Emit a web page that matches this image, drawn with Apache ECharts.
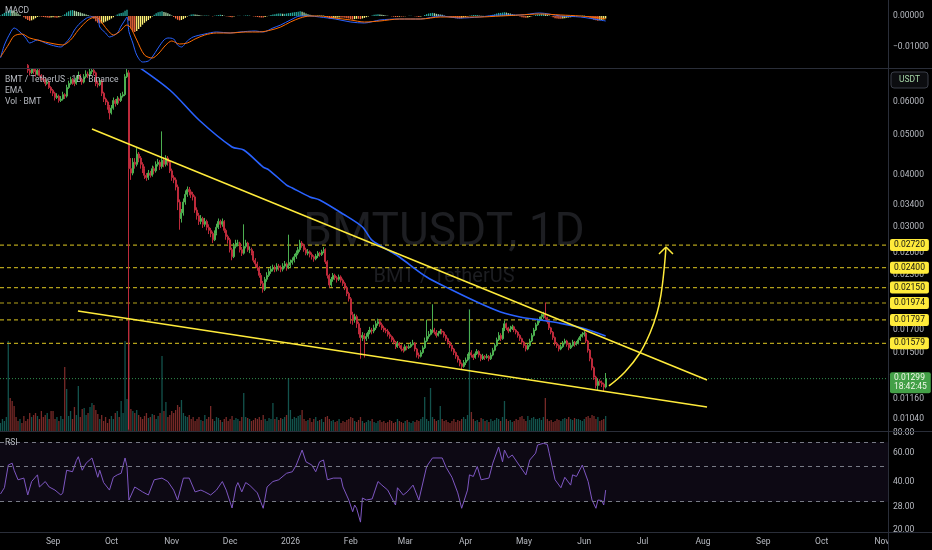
<!DOCTYPE html>
<html><head><meta charset="utf-8">
<script src="https://cdn.jsdelivr.net/npm/echarts@6/dist/echarts.min.js"></script>
<style>html,body{margin:0;padding:0;background:#000;}#c{width:932px;height:550px;}</style>
</head><body><div id="c"></div>
<script>
// ---------- DATA (prices in units of 0.00001 USDT) ----------
const startDate = '2025-08-05';           // first daily candle (day index 0)
const firstOpen = 7400;
const closeP = [
7500,7700,7900,8200,8400,8300,8100,8000,7900,7700,
7800,7600,7500,7350,7150,7050,7200,7100,7000,7150,
6950,6850,6800,6650,6700,6500,6400,6300,6150,6200,
6050,6100,6250,6200,6500,6650,6800,6700,6650,6850,
6950,6800,6700,6900,7000,6950,7100,7150,7050,6650,
6600,6750,6300,6100,6000,5850,5650,5800,6050,5950,
6100,6050,6200,6250,6900,7050,4150,4050,4300,4250,
4500,4400,4250,4150,4000,3950,4050,4000,4150,4100,
4250,4300,4200,4350,4250,4400,4300,4100,3950,3900,
3750,3450,3150,3250,3450,3600,3700,3650,3600,3550,
3300,3200,3100,3150,3050,3100,3000,2950,2900,2800,
2900,3000,3100,3050,3100,2950,2850,2800,2650,2550,
2700,2750,2750,2650,2600,2700,2750,2650,2650,2600,
2500,2450,2400,2300,2200,2130,2250,2300,2350,2380,
2400,2380,2420,2400,2380,2420,2450,2400,2430,2470,
2500,2550,2600,2650,2750,2720,2650,2600,2620,2580,
2550,2520,2560,2600,2580,2620,2650,2480,2300,2180,
2250,2300,2270,2250,2280,2240,2200,2150,2080,2020,
1850,1800,1830,1760,1700,1630,1650,1620,1640,1680,
1700,1690,1720,1760,1780,1750,1720,1700,1690,1660,
1640,1610,1590,1550,1580,1560,1530,1520,1550,1540,
1550,1570,1580,1530,1480,1470,1500,1540,1600,1640,
1660,1680,1700,1680,1650,1670,1690,1680,1650,1620,
1590,1560,1530,1500,1470,1440,1410,1390,1420,1440,
1470,1500,1480,1460,1490,1510,1480,1450,1470,1460,
1470,1450,1480,1520,1560,1610,1650,1620,1700,1760,
1720,1690,1710,1730,1700,1680,1650,1620,1590,1560,
1530,1560,1600,1650,1700,1750,1790,1800,1830,1850,
1820,1780,1720,1680,1630,1580,1560,1530,1550,1580,
1600,1570,1540,1560,1590,1570,1580,1610,1640,1660,
1670,1600,1520,1450,1380,1310,1250,1280,1270,1260,
1240,1299];
const highP = [
7650,7800,8050,8350,8600,8550,8400,8200,8100,7950,
7900,7850,7700,7550,7400,7200,7200,7200,7200,7200,
7200,7000,6950,6850,6800,6750,6550,6450,6350,6300,
6250,6200,6350,6300,6600,6750,6900,6850,6780,6950,
7100,7000,6850,7000,7150,7100,7200,7200,7200,7100,
6750,6850,6800,6350,6150,6050,5900,5900,6150,6100,
6200,6150,6300,6350,7000,7200,7150,4400,4400,4400,
4650,4550,4450,4300,4200,4050,4120,4100,4220,4200,
4320,4380,4350,5100,4420,4470,4450,4330,4150,4000,
3950,3800,3500,3320,3520,3680,3760,3750,3700,3650,
3580,3350,3250,3210,3180,3160,3130,3050,2990,2930,
2950,3060,3150,3130,3150,3120,2980,2880,2830,2680,
2750,2800,2800,2770,2690,3050,2800,2770,2700,2680,
2630,2530,2480,2420,2330,2230,2280,2340,2390,2420,
2440,2430,2460,2450,2430,2460,2490,2470,2880,2510,
2540,2590,2640,2690,2800,2780,2740,2680,2660,2640,
2610,2570,2590,2630,2620,2650,2690,2670,2500,2320,
2280,2330,2320,2290,2310,2300,2260,2220,2170,2100,
2040,1880,1860,1850,1780,1720,1680,1670,1670,1700,
1730,1720,1750,1790,1810,1800,1770,1740,1720,1710,
1680,1650,1630,1600,1600,1590,1570,1550,1570,1560,
1570,1590,1610,1590,1540,1500,1520,1560,1630,1800,
1690,1710,1960,1720,1700,1690,1710,1710,1690,1660,
1630,1600,1570,1540,1510,1480,1450,1420,1440,1460,
1490,1900,1520,1490,1510,1530,1520,1490,1490,1480,
1490,1480,1500,1540,1580,1630,1680,1670,1720,1790,
1770,1730,1740,1750,1740,1710,1690,1660,1630,1600,
1570,1580,1620,1670,1720,1770,1810,1830,1860,1880,
1980,1830,1790,1730,1690,1640,1590,1570,1570,1600,
1620,1610,1580,1580,1610,1600,1600,1630,1660,1680,
1690,1680,1610,1530,1460,1390,1320,1300,1295,1285,
1270,1340];
const lowP = [
7300,7450,7650,7850,8100,8200,8000,7900,7800,7600,
7650,7500,7400,7250,7050,6950,7000,7000,6900,6950,
6900,6750,6700,6550,6600,6450,6300,6200,6050,6100,
5980,6000,6050,6100,6150,6450,6600,6600,6550,6600,
6800,6700,6600,6650,6850,6850,6900,7000,6950,6550,
6500,6550,6200,6000,5900,5750,5450,5600,5750,5850,
5900,5950,6000,6150,6200,6850,980,3900,4000,4150,
4200,4300,4150,4050,3920,3880,3900,3950,3970,4020,
4060,4200,4120,4150,4180,4200,4220,4050,3880,3830,
3680,3300,2960,3080,3200,3400,3550,3580,3530,3480,
3250,3130,3040,3050,2990,3010,2950,2890,2840,2750,
2780,2870,2970,2990,3010,2910,2800,2740,2610,2500,
2530,2670,2700,2610,2560,2580,2670,2620,2600,2570,
2470,2410,2360,2270,2170,2090,2110,2220,2280,2320,
2350,2340,2350,2360,2340,2350,2390,2360,2380,2400,
2440,2470,2520,2570,2620,2680,2620,2570,2570,2540,
2510,2480,2500,2530,2550,2560,2600,2450,2260,2150,
2160,2220,2240,2210,2230,2210,2170,2120,2050,1990,
1760,1750,1770,1720,1660,1450,1600,1460,1600,1620,
1660,1660,1670,1700,1740,1730,1700,1680,1670,1640,
1620,1590,1570,1530,1540,1540,1510,1500,1510,1520,
1530,1540,1560,1510,1460,1450,1460,1490,1530,1590,
1620,1650,1670,1660,1630,1640,1660,1660,1630,1600,
1570,1540,1510,1480,1450,1420,1390,1370,1380,1400,
1430,1450,1460,1440,1450,1480,1460,1430,1440,1440,
1450,1430,1440,1470,1510,1550,1600,1600,1610,1690,
1700,1670,1680,1700,1680,1660,1630,1600,1570,1540,
1510,1520,1550,1590,1640,1690,1740,1770,1790,1810,
1800,1760,1700,1660,1610,1560,1540,1510,1520,1540,
1570,1550,1520,1530,1550,1550,1560,1570,1600,1630,
1640,1580,1500,1430,1360,1290,1230,1215,1250,1240,
1210,1230];
// relative daily volume (arbitrary units)
const volume = [
8,12,10,14,90,33,30,25,14,10,
12,8,15,10,12,18,14,16,18,15,
12,20,14,16,18,12,20,20,12,14,
10,15,12,64,42,15,20,12,24,16,
45,14,22,23,16,18,24,28,26,21,
17,12,16,10,14,8,12,15,12,18,
20,14,30,18,90,32,110,22,20,18,
21,16,14,12,15,18,13,14,17,16,
12,15,18,75,20,29,14,16,20,18,
21,26,24,31,18,15,14,16,12,14,
10,12,14,11,10,16,12,14,25,12,
10,14,13,11,9,12,14,10,12,15,
11,13,12,10,14,38,14,13,12,10,
11,13,12,14,11,16,12,10,13,12,
28,12,14,11,13,12,14,16,53,21,
12,14,13,15,16,21,12,10,11,13,
9,12,14,10,11,12,9,14,15,12,
10,11,9,10,12,8,10,9,11,12,
14,13,10,9,11,14,10,8,9,11,
10,12,9,8,10,11,9,10,8,9,
11,10,8,9,12,10,9,8,10,11,
9,8,10,9,11,10,12,14,34,12,
10,43,14,12,10,11,25,12,10,11,
9,8,10,12,9,11,10,12,14,12,
16,122,19,12,10,11,9,13,12,10,
11,9,12,10,11,13,12,10,14,30,
12,10,11,9,10,12,11,14,15,12,
10,15,11,13,14,12,12,13,11,14,
33,12,10,11,9,10,12,11,10,12,
13,12,14,12,11,13,12,12,11,10,
12,14,15,13,16,15,12,14,10,11,
12,15];
// MACD histogram, daily (units of 0.00001)
const macdHist = [
20,60,100,140,170,190,180,160,120,80,
40,0,-40,-90,-130,-150,-140,-110,-70,-30,
-10,-20,-30,-40,-50,-60,-50,-40,-50,-60,
-40,-20,20,60,110,150,180,190,170,150,
130,110,90,70,50,30,10,-30,-90,-170,
-220,-240,-230,-210,-180,-150,-120,-80,-40,10,
50,80,100,110,170,200,-150,-400,-500,-520,
-480,-420,-350,-280,-220,-170,-130,-70,-20,40,
90,120,140,150,130,110,90,60,20,-30,
-80,-120,-140,-130,-100,-60,-20,20,50,60,
50,40,30,20,10,20,20,10,0,-10,
10,20,30,40,30,10,-10,-20,-30,-40,
-20,0,10,10,0,10,20,20,10,0,
-10,-20,-30,-40,-50,-50,-30,-10,10,30,
50,60,70,80,80,70,70,80,90,100,
110,120,130,140,150,140,110,80,60,40,
20,10,10,20,20,20,20,-10,-50,-80,
-90,-80,-70,-60,-50,-50,-50,-60,-70,-80,
-100,-110,-100,-90,-90,-100,-80,-60,-40,-20,
0,20,40,50,60,50,40,30,20,10,
0,-10,-20,-30,-30,-20,-20,-20,-10,0,
10,10,0,-10,-20,-30,-20,0,30,60,
80,90,100,90,70,60,50,40,20,0,
-20,-40,-50,-60,-70,-80,-80,-70,-50,-30,
-10,10,20,30,30,30,20,10,10,0,
0,10,20,40,60,80,100,100,110,120,
110,90,80,60,40,20,0,-20,-40,-50,
-60,-50,-30,-10,10,30,50,60,70,70,
60,40,20,-10,-40,-70,-80,-90,-90,-80,
-70,-60,-50,-40,-30,-20,-10,0,10,20,
20,0,-30,-60,-90,-120,-140,-150,-140,-130,
-110,-80];
// [day index, value in 0.00001]
const macdLine = [[0,-1355],[2,-935],[5,-548],[7,-387],[10,-516],[13,-710],[15,-871],[19,-774],[23,-871],[26,-935],[31,-1000],[33,-903],[36,-677],[38,-452],[41,-226],[46,-32],[50,-65],[51,-355],[54,-548],[56,-677],[60,-548],[62,-323],[64,-129],[65,-32],[66,-500],[68,-871],[70,-1258],[73,-1484],[76,-1452],[78,-1323],[81,-1032],[84,-774],[86,-710],[89,-742],[91,-935],[93,-1000],[96,-806],[99,-677],[105,-581],[111,-516],[118,-548],[123,-516],[131,-484],[135,-516],[140,-387],[144,-290],[149,-129],[154,0],[159,0],[164,-32],[172,-97],[180,-194],[187,-226],[195,-129],[205,-97],[216,-97],[226,0],[236,-65],[246,-32],[257,32],[267,32],[277,97],[288,0],[298,-32],[308,-129],[311,-161]];
const signalLine = [[0,-1323],[4,-935],[7,-645],[11,-581],[15,-710],[19,-774],[23,-839],[28,-903],[32,-935],[36,-774],[40,-452],[45,-129],[49,-32],[51,-129],[55,-452],[58,-613],[61,-516],[65,-290],[67,-387],[70,-774],[74,-1258],[78,-1355],[81,-1226],[85,-935],[88,-806],[92,-903],[96,-871],[100,-742],[105,-613],[111,-548],[118,-548],[126,-516],[133,-516],[139,-452],[144,-355],[149,-194],[154,-65],[159,0],[164,0],[172,-65],[180,-129],[187,-194],[195,-161],[205,-97],[216,-97],[226,-32],[236,-32],[246,-32],[257,0],[267,32],[277,65],[288,32],[298,0],[308,-65],[311,-97]];
// [day index, RSI]
const rsiPts = [[0,33.5],[2,36.6],[4,50.6],[6,52],[7,47],[9,41],[12,42],[14,33],[16,40],[19,44],[20,37],[23,40],[25,37],[28,35.4],[31,33],[32,34],[34,47],[37,46],[39,54],[40,57],[42,47],[44,52],[47,56],[50,42.5],[51,47],[53,39.4],[56,35.4],[58,42.5],[60,44],[62,45],[64,56],[65,49.6],[66,30.7],[69,37],[73,34.5],[76,33],[79,41],[83,42],[86,40],[89,35.4],[91,30.7],[94,42],[97,42],[100,34.5],[103,35.4],[105,34.5],[108,33],[111,35.4],[114,40],[116,35.4],[119,27.4],[121,37],[122,39.4],[124,34.5],[126,39.4],[128,38],[132,34],[133,31.6],[135,27.3],[137,37],[140,40],[143,41],[147,45],[150,46],[152,50.6],[155,62.7],[157,53],[160,50.6],[162,46],[164,53],[166,54.4],[168,41],[171,42],[175,42],[176,37],[179,30.7],[181,26],[182,28.6],[183,27.3],[185,22.4],[186,31.6],[188,30.7],[191,31.2],[194,40],[196,38],[199,35.4],[203,28.6],[204,36.6],[207,33],[209,34.5],[212,38],[215,30.7],[219,49.6],[222,56],[227,56],[229,49],[232,42.5],[235,34],[237,27.3],[240,35.4],[241,44],[243,43],[245,49.6],[247,41],[251,42],[253,52],[256,65.5],[258,53],[259,62.7],[261,56],[263,58.4],[267,49.6],[270,44],[272,54.4],[275,60],[276,67.4],[279,69],[281,68],[282,60],[285,41],[288,36.6],[290,42.5],[293,38],[294,44],[296,43],[299,50.6],[300,52],[302,40],[304,30.7],[306,27.3],[307,30.7],[309,30.5],[310,28.6],[311,35.4]];
// [day index, EMA price]
const emaPts = [[68,0.07445],[87,0.06412],[102,0.05431],[119,0.04678],[125,0.04601],[135,0.04188],[138,0.04119],[147,0.03791],[150,0.03729],[159,0.03548],[164,0.03490],[176,0.03230],[186,0.03005],[191,0.02790],[200,0.02632],[205,0.02546],[219,0.02279],[232,0.02121],[246,0.01974],[257,0.01879],[267,0.01827],[277,0.01797],[287,0.01767],[299,0.01719],[311,0.01645]];
// drawings [day index, price]
const upperTrend = [[47.0,0.05168],[363.1,0.01289]];
const lowerTrend = [[39.8,0.01889],[363.1,0.01111]];
const arrowPath = [[312.7,0.01248],[320.9,0.01348],[328.6,0.01497],[333.8,0.01672],[337.4,0.01868],[339.4,0.02063],[341,0.02369],[342,0.0269]];
const arrowHead = [[338.4,0.02588],[342,0.0269],[345.6,0.02588]];
const levels = [0.02720, 0.02400, 0.02150, 0.01974, 0.01797, 0.01579];
const lastPrice = 0.01299;
const countdown = '18:42:45';
const priceTicks = [0.06, 0.05, 0.04, 0.034, 0.03, 0.026, 0.023, 0.017, 0.015, 0.0116, 0.0104];
const macdTicks = [0, -0.01];
const rsiTicks = [80, 60, 40, 28, 20];
const rsiBands = [70, 50, 30];
const monthTicks = ['2025-09-01','2025-10-01','2025-11-01','2025-12-01','2026-01-01','2026-02-01','2026-03-01','2026-04-01','2026-05-01','2026-06-01','2026-07-01','2026-08-01','2026-09-01','2026-10-01','2026-11-01'];
const monthNames = ['Jan','Feb','Mar','Apr','May','Jun','Jul','Aug','Sep','Oct','Nov','Dec'];

// ---------- BUILD ----------
const DAY = 86400000, S = 1e-5;
const X0 = -0.26, X1 = 456.1;   // visible day range
const T0 = Date.parse(startDate + 'T00:00:00Z');
const dayOf = s => Math.round((Date.parse(s + 'T00:00:00Z') - T0) / DAY);
const UP = '#4caf50', DOWN = '#bd2a3b';
const candles = closeP.map((c, i) => {
  const o = i === 0 ? firstOpen : closeP[i - 1];
  return [i, o * S, c * S, lowP[i] * S, highP[i] * S];
});
const volData = volume.map((v, i) => {
  const o = i === 0 ? firstOpen : closeP[i - 1];
  return { value: [i, v], itemStyle: { color: closeP[i] >= o ? 'rgba(38,166,154,0.5)' : 'rgba(239,83,80,0.5)' } };
});
const histData = macdHist.map((v, i) => {
  const p = i ? macdHist[i - 1] : v;
  const col = v >= 0 ? (v >= p ? '#26a69a' : '#a5d6a7') : (v <= p ? '#ff6e40' : '#fff176');
  return { value: [i, v * S], itemStyle: { color: col } };
});
const dpS = arr => arr.map(p => [p[0], p[1] * S]);
const LBL = '#b8bbc2', FONT = 'Roboto, sans-serif', FS = 8.5, SEP = '#2a2e39';
const yBase = { position: 'right', axisLine: { show: false }, axisTick: { show: false }, splitLine: { show: false } };
const xAx = k => ({
  type: 'value', gridIndex: k, min: X0, max: X1,
  axisLine: { show: false }, axisTick: { show: false }, splitLine: { show: false },
  axisLabel: k === 2 ? {
    customValues: monthTicks.map(dayOf),
    color: LBL, fontSize: FS, fontFamily: FONT, margin: 5,
    formatter: v => { const d = new Date(T0 + Math.round(v) * DAY); return d.getUTCMonth() === 0 ? String(d.getUTCFullYear()) : monthNames[d.getUTCMonth()]; }
  } : { show: false }
});
const yellow = '#ffeb3b';
const lineS = (data, xi, yi, color, w, extra) => Object.assign({
  type: 'line', xAxisIndex: xi, yAxisIndex: yi, data, showSymbol: false, symbol: 'none',
  lineStyle: { color, width: w }, silent: true, z: 4
}, extra || {});
const levelSeries = levels.map(v => lineS([[X0, v], [X1, v]], 1, 1, '#b3a11b', 1.2, {
  z: 3, lineStyle: { color: '#b3a11b', width: 1.2, type: [4, 3] },
  endLabel: { show: true, distance: 2, formatter: v.toFixed(5), backgroundColor: yellow, color: '#111',
    fontSize: FS, fontFamily: FONT, padding: [2, 4, 1, 4], borderRadius: 2 }
}));
const lastSeries = lineS([[X0, lastPrice], [X1, lastPrice]], 1, 1, '#2f8f4e', 1, {
  z: 3, lineStyle: { color: '#2f8f4e', width: 1, type: [1, 2] },
  endLabel: { show: true, distance: 2, offset: [0, 4], formatter: lastPrice.toFixed(5) + '\n' + countdown,
    backgroundColor: '#43a047', color: '#f1f8e9', fontSize: FS, fontFamily: FONT, lineHeight: 9,
    padding: [2, 4, 1, 4], borderRadius: 2 }
});

const option = {
  backgroundColor: '#000', animation: false,
  grid: [
    { left: 0, right: 44, top: 0, height: 68 },
    { left: 0, right: 44, top: 69, height: 362 },
    { left: 0, right: 44, top: 432, height: 100 }
  ],
  xAxis: [xAx(0), xAx(1), xAx(2)],
  yAxis: [
    Object.assign({ gridIndex: 0, type: 'value', min: -0.016775, max: 0.00516,
      axisLabel: { customValues: macdTicks, color: LBL, fontSize: FS, fontFamily: FONT, margin: 5,
        formatter: v => (v < 0 ? '\u2212' : '') + Math.abs(v).toFixed(5) } }, yBase),
    Object.assign({ gridIndex: 1, type: 'log', min: 0.009723, max: 0.07202,
      axisLabel: { customValues: priceTicks, color: LBL, fontSize: FS, fontFamily: FONT, margin: 5,
        formatter: v => v.toFixed(5) } }, yBase),
    { gridIndex: 1, type: 'value', min: 0, max: 362, show: false },
    Object.assign({ gridIndex: 2, type: 'log', min: 19.45, max: 81.15,
      axisLabel: { customValues: rsiTicks, color: LBL, fontSize: FS, fontFamily: FONT, margin: 5,
        formatter: v => v.toFixed(2) } }, yBase)
  ],
  series: [
    { type: 'bar', xAxisIndex: 1, yAxisIndex: 2, data: volData, barWidth: 1.3, silent: true, z: 1 },
    { type: 'candlestick', xAxisIndex: 1, yAxisIndex: 1, data: candles, encode: { x: 0, y: [1, 2, 3, 4] },
      barWidth: 1.5, clip: true, silent: true, z: 3,
      itemStyle: { color: UP, color0: DOWN, borderColor: UP, borderColor0: DOWN, borderWidth: 1 } },
    ...levelSeries,
    lastSeries,
    lineS(emaPts, 1, 1, '#2962ff', 1.6, { smooth: 0.3 }),
    lineS(upperTrend, 1, 1, yellow, 1.5),
    lineS(lowerTrend, 1, 1, yellow, 1.5),
    lineS(arrowPath, 1, 1, yellow, 1.5, { smooth: 0.4 }),
    lineS(arrowHead, 1, 1, yellow, 1.5),
    { type: 'bar', xAxisIndex: 0, yAxisIndex: 0, data: histData, barWidth: 1.3, silent: true, z: 1 },
    lineS(dpS(macdLine), 0, 0, '#2962ff', 1, { smooth: 0.3 }),
    lineS(dpS(signalLine), 0, 0, '#ff6d00', 1, { smooth: 0.3 }),
    lineS(rsiPts, 2, 3, '#7e57c2', 1, {
      markArea: { silent: true, itemStyle: { color: 'rgba(126,87,194,0.1)' },
        data: [[{ yAxis: rsiBands[0] }, { yAxis: rsiBands[2] }]] },
      markLine: { symbol: ['none', 'none'], silent: true, label: { show: false },
        lineStyle: { color: '#787b86', type: [4, 4], width: 1 },
        data: rsiBands.map(v => ({ yAxis: v })) }
    })
  ],
  graphic: [
    { type: 'text', z: 0, silent: true, style: { text: 'BMTUSDT, 1D', x: 444, y: 233, align: 'center', verticalAlign: 'middle', fill: '#1d1e22', fontSize: 46, fontFamily: FONT } },
    { type: 'text', z: 0, silent: true, style: { text: 'BMT / TetherUS', x: 444, y: 277, align: 'center', verticalAlign: 'middle', fill: '#1d1e22', fontSize: 20, fontFamily: FONT } },
    { type: 'text', z: 100, silent: true, style: { text: 'MACD', x: 5, y: 11, verticalAlign: 'middle', fill: LBL, fontSize: FS, fontFamily: FONT } },
    { type: 'text', z: 100, silent: true, style: { text: 'BMT / TetherUS \u00b7 1D \u00b7 Binance', x: 5, y: 80, verticalAlign: 'middle', fill: LBL, fontSize: FS, fontFamily: FONT } },
    { type: 'text', z: 100, silent: true, style: { text: 'EMA', x: 5, y: 91, verticalAlign: 'middle', fill: LBL, fontSize: FS, fontFamily: FONT } },
    { type: 'text', z: 100, silent: true, style: { text: 'Vol \u00b7 BMT', x: 5, y: 102, verticalAlign: 'middle', fill: LBL, fontSize: FS, fontFamily: FONT } },
    { type: 'text', z: 100, silent: true, style: { text: 'RSI', x: 5, y: 443, verticalAlign: 'middle', fill: LBL, fontSize: FS, fontFamily: FONT } },
    { type: 'rect', z: 90, silent: true, shape: { x: 888.5, y: 533, width: 44, height: 17 }, style: { fill: '#000' } },
    { type: 'line', z: 95, silent: true, shape: { x1: 0, y1: 68.5, x2: 932, y2: 68.5 }, style: { stroke: SEP, lineWidth: 1 } },
    { type: 'line', z: 95, silent: true, shape: { x1: 0, y1: 431.5, x2: 932, y2: 431.5 }, style: { stroke: SEP, lineWidth: 1 } },
    { type: 'line', z: 95, silent: true, shape: { x1: 0, y1: 532.5, x2: 932, y2: 532.5 }, style: { stroke: SEP, lineWidth: 1 } },
    { type: 'line', z: 95, silent: true, shape: { x1: 888.5, y1: 0, x2: 888.5, y2: 550 }, style: { stroke: SEP, lineWidth: 1 } },
    { type: 'rect', z: 96, silent: true, shape: { x: 891, y: 72, width: 37, height: 16, r: 3 }, style: { fill: '#0c0d10', stroke: '#3a3e48', lineWidth: 1 } },
    { type: 'text', z: 97, silent: true, style: { text: 'USDT', x: 909.5, y: 80, align: 'center', verticalAlign: 'middle', fill: '#a5d6a7', fontSize: FS, fontFamily: FONT } }
  ]
};
const chart = echarts.init(document.getElementById('c'), null, { renderer: 'canvas' });
chart.setOption(option);
</script>
</body></html>
